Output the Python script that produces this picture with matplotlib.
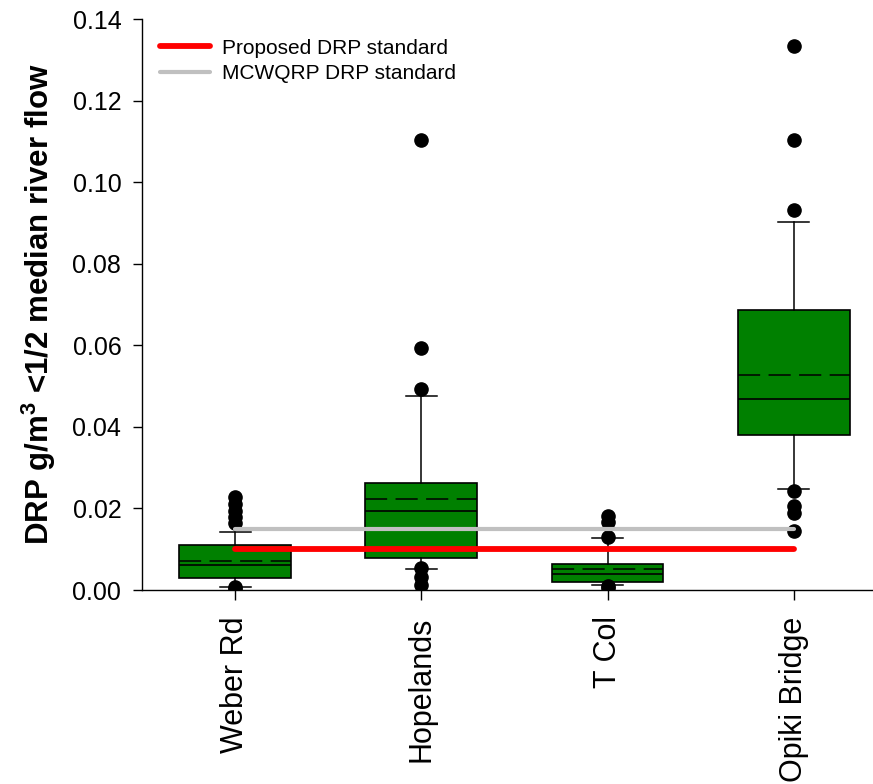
import matplotlib
matplotlib.use("Agg")
import matplotlib.pyplot as plt
from matplotlib.lines import Line2D

plt.rcParams['font.family'] = ['Liberation Sans', 'DejaVu Sans']
plt.rcParams['mathtext.fontset'] = 'custom'
plt.rcParams['mathtext.rm'] = 'Liberation Sans'
plt.rcParams['mathtext.bf'] = 'Liberation Sans:bold'

# site names
sites = ["Weber Rd", "Hopelands", "T Col", "Opiki Bridge"]

# box statistics (g/m3)
q1 = [0.0029, 0.0079, 0.0020, 0.0381]
med = [0.0061, 0.0194, 0.0039, 0.0469]
q3 = [0.0110, 0.0262, 0.0064, 0.0686]
mean = [0.0072, 0.0222, 0.0052, 0.0527]
whislo = [0.0008, 0.0051, 0.0012, 0.0248]
whishi = [0.0143, 0.0476, 0.0128, 0.0902]

# outliers
fliers_weber = [0.0228, 0.0210, 0.0195, 0.0180, 0.0165, 0.0008, 0.0002]
fliers_hope = [0.1103, 0.0593, 0.0492, 0.0053, 0.0033, 0.0012]
fliers_tcol = [0.0181, 0.0167, 0.0131, 0.0010, 0.0004]
fliers_opiki = [0.1333, 0.1103, 0.0932, 0.0243, 0.0206, 0.0190, 0.0145]
fliers = [fliers_weber, fliers_hope, fliers_tcol, fliers_opiki]

# standards
proposed_std = 0.010
mcwqrp_std = 0.015

stats = []
for i in range(len(sites)):
    stats.append(dict(label=sites[i], q1=q1[i], med=med[i], q3=q3[i], mean=mean[i],
                      whislo=whislo[i], whishi=whishi[i], fliers=fliers[i]))

fig = plt.figure(figsize=(8.73, 7.84), dpi=100)
ax = fig.add_axes([142/873, 0.2474, 4*186.2/873, 0.7283])

pos = list(range(len(sites)))
ax.bxp(stats, positions=pos, widths=0.60, capwidths=0.167, patch_artist=True,
       showmeans=True, meanline=True,
       boxprops=dict(facecolor='#008000', edgecolor='black', linewidth=1.2),
       medianprops=dict(color='black', linewidth=1.2),
       meanprops=dict(color='black', linewidth=1.1, linestyle=(0, (14.5, 5.5))),
       whiskerprops=dict(color='black', linewidth=1.1),
       capprops=dict(color='black', linewidth=1.1),
       flierprops=dict(marker='o', markerfacecolor='black', markeredgecolor='black',
                       markersize=9.5))

ax.plot([pos[0], pos[-1]], [proposed_std, proposed_std], color='#ff0000', lw=4.2,
        solid_capstyle='round', zorder=5)
ax.plot([pos[0], pos[-1]], [mcwqrp_std, mcwqrp_std], color='#c0c0c0', lw=3,
        solid_capstyle='round', zorder=5)

ax.set_xlim(-0.5, 3.5)
ax.set_ylim(0, 0.14)
ax.set_yticks([0, 0.02, 0.04, 0.06, 0.08, 0.10, 0.12, 0.14])
ax.set_yticklabels(["%.2f" % v for v in ax.get_yticks()])
ax.set_xticks(pos)
ax.set_xticklabels(sites, rotation=90)
ax.tick_params(axis='y', labelsize=18, length=6.5, width=1, pad=8.4)
ax.tick_params(axis='x', labelsize=22, length=7, width=1, pad=12)

for s in ['top', 'right']:
    ax.spines[s].set_visible(False)
for s in ['left', 'bottom']:
    ax.spines[s].set_linewidth(1)

ax.set_ylabel(r"DRP g/m$^\mathbf{3}$ <1/2 median river flow", fontsize=22.5,
              fontweight='bold')
ax.yaxis.set_label_coords(-0.113, 0.5)

handles = [Line2D([], [], color='#ff0000', lw=4.2, solid_capstyle='round'),
           Line2D([], [], color='#c0c0c0', lw=3, solid_capstyle='round')]
ax.legend(handles, ["Proposed DRP standard", "MCWQRP DRP standard"],
          loc='upper left', bbox_to_anchor=(0.0242, 0.9655), frameon=False,
          fontsize=15, handlelength=2.4, handletextpad=0.56, labelspacing=0.3,
          borderpad=0, borderaxespad=0)

fig.savefig("out.png", dpi=100)
